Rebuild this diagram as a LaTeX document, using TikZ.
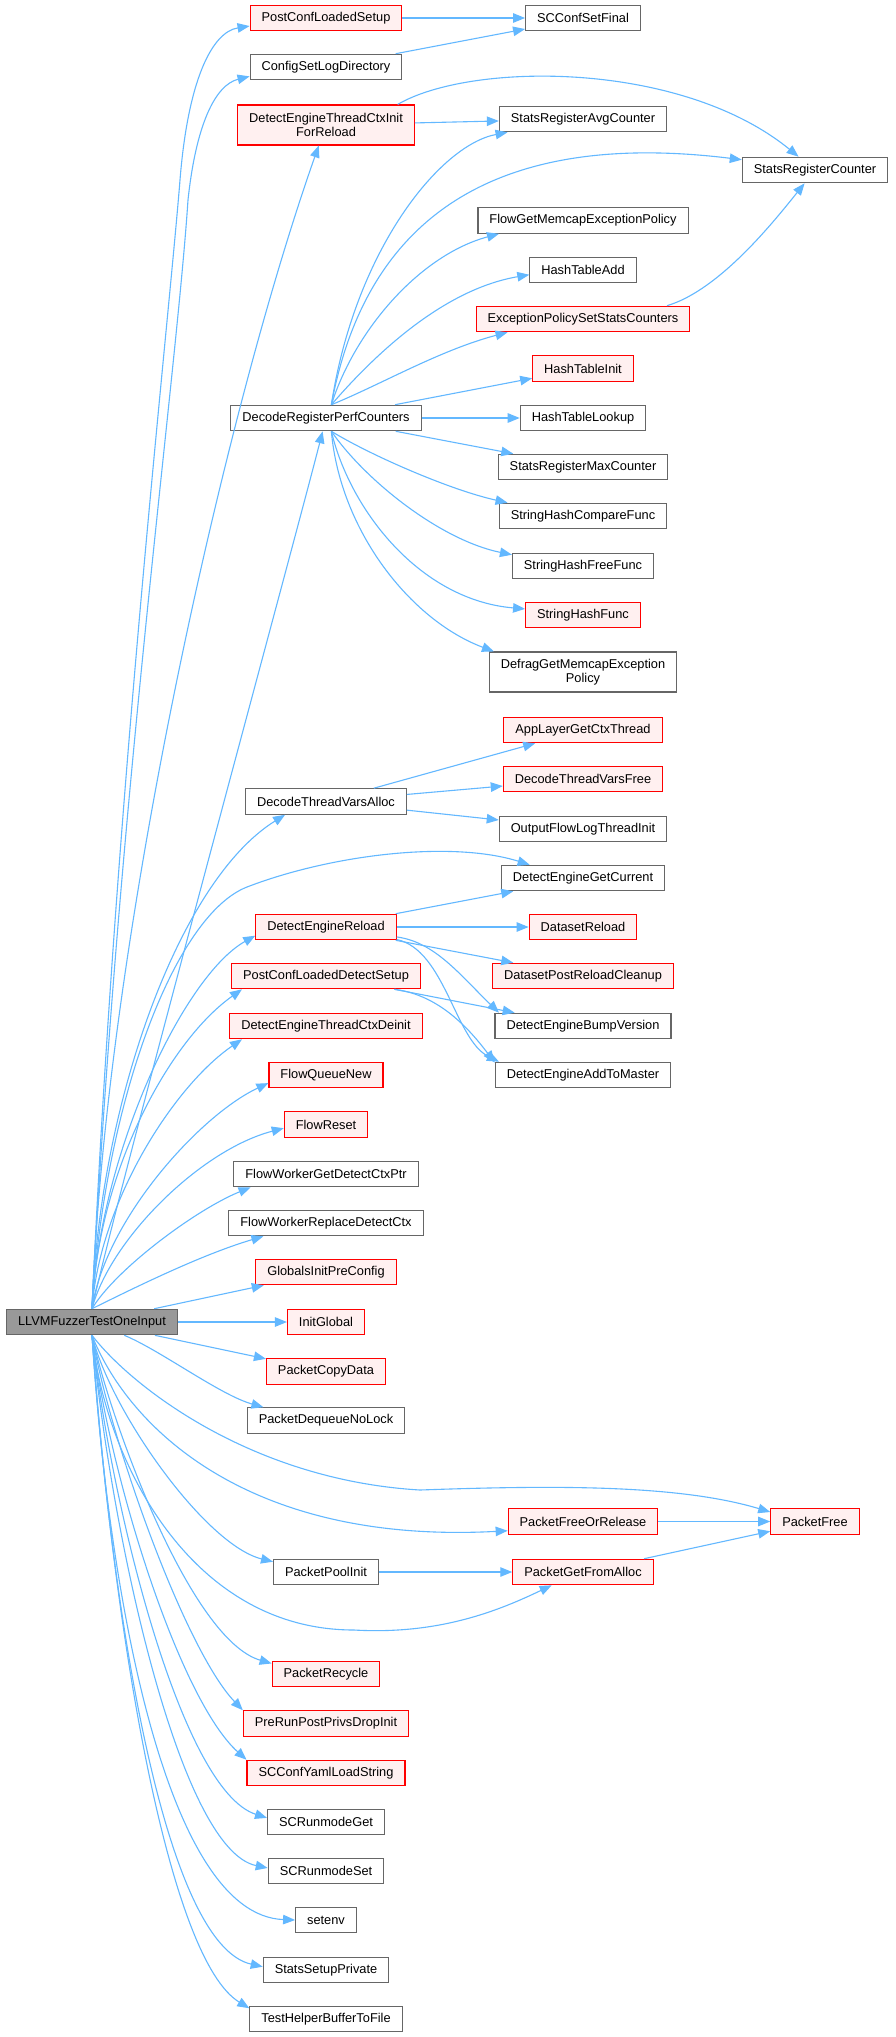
\documentclass[tikz,border=0pt]{standalone}
\usepackage{fontspec}
\setmainfont{Liberation Sans}
\usetikzlibrary{arrows.meta}

\definecolor{edgeblue}{HTML}{63B8FF}
\definecolor{nodegray}{HTML}{666666}
\definecolor{rootgray}{HTML}{999999}
\definecolor{redfill}{HTML}{FFF0F0}

\begin{document}
\begin{tikzpicture}[
    x=1pt, y=-1pt,
    font=\fontsize{12.8}{14}\selectfont,
    fn/.style={draw=nodegray, fill=white, line width=1.1pt, minimum height=25.5pt,
               inner xsep=11.5pt, inner ysep=1pt},
    hot/.style={fn, draw=red, fill=redfill},
    rootfn/.style={fn, fill=rootgray},
    twoline/.style={align=center, minimum height=40pt},
    call/.style={draw=edgeblue, line width=1.1pt, -{Triangle[length=12pt, width=9.5pt]}}
]

% White page
\fill[white] (0,0) rectangle (895,2037);
\useasboundingbox (0,0) rectangle (895,2037);

% Caller
\node[rootfn] (root) at (92,1322) {LLVMFuzzerTestOneInput};

% Callees, first column
\node[hot] (pcls) at (326,18) {PostConfLoadedSetup};
\node[fn] (csld) at (326,67) {ConfigSetLogDirectory};
\node[hot, twoline] (detcifr) at (326,125) {DetectEngineThreadCtxInit\\ForReload};
\node[fn] (drpc) at (326,418) {DecodeRegisterPerfCounters};
\node[fn] (dtva) at (326,801.5) {DecodeThreadVarsAlloc};
\node[hot] (der) at (326,927) {DetectEngineReload};
\node[hot] (pclds) at (326,976) {PostConfLoadedDetectSetup};
\node[hot] (detcd) at (326,1026) {DetectEngineThreadCtxDeinit};
\node[hot] (fqn) at (326,1075) {FlowQueueNew};
\node[hot] (fr) at (326,1124.5) {FlowReset};
\node[fn] (fwgdcp) at (326,1174) {FlowWorkerGetDetectCtxPtr};
\node[fn] (fwrdc) at (326,1223) {FlowWorkerReplaceDetectCtx};
\node[hot] (gipc) at (326,1272) {GlobalsInitPreConfig};
\node[hot] (ig) at (326,1322) {InitGlobal};
\node[hot] (pcd) at (326,1371.5) {PacketCopyData};
\node[fn] (pdnl) at (326,1420.5) {PacketDequeueNoLock};
\node[fn] (ppi) at (326,1572) {PacketPoolInit};
\node[hot] (prc) at (326,1674) {PacketRecycle};
\node[hot] (rppdi) at (326,1723.5) {PreRunPostPrivsDropInit};
\node[hot] (ylds) at (326,1773) {SCConfYamlLoadString};
\node[fn] (rmg) at (326,1822) {SCRunmodeGet};
\node[fn] (rms) at (326,1871) {SCRunmodeSet};
\node[fn] (senv) at (326,1920) {setenv};
\node[fn] (ssp) at (326,1970) {StatsSetupPrivate};
\node[fn] (thbf) at (326,2019) {TestHelperBufferToFile};

% Second column
\node[fn] (scsf) at (583,18) {SCConfSetFinal};
\node[fn] (srac) at (583,119) {StatsRegisterAvgCounter};
\node[fn] (fgmep) at (583,220.5) {FlowGetMemcapExceptionPolicy};
\node[fn] (hta) at (583,270) {HashTableAdd};
\node[hot] (epssc) at (583,319) {ExceptionPolicySetStatsCounters};
\node[hot] (hti) at (583,368.5) {HashTableInit};
\node[fn] (htl) at (583,418) {HashTableLookup};
\node[fn] (srmc) at (583,467) {StatsRegisterMaxCounter};
\node[fn] (shcf) at (583,516) {StringHashCompareFunc};
\node[fn] (shff) at (583,566) {StringHashFreeFunc};
\node[hot] (shf) at (583,615) {StringHashFunc};
\node[fn, twoline] (dgmep) at (583,672) {DefragGetMemcapException\\Policy};
\node[hot] (algct) at (583,730) {AppLayerGetCtxThread};
\node[hot] (dtvf) at (583,779) {DecodeThreadVarsFree};
\node[fn] (ofti) at (583,829) {OutputFlowLogThreadInit};
\node[fn] (degc) at (583,878) {DetectEngineGetCurrent};
\node[hot] (dsr) at (583,927) {DatasetReload};
\node[hot] (dsprc) at (583,976) {DatasetPostReloadCleanup};
\node[fn] (debv) at (583,1026) {DetectEngineBumpVersion};
\node[fn] (deatm) at (583,1075) {DetectEngineAddToMaster};
\node[hot] (pfor) at (583,1521.5) {PacketFreeOrRelease};
\node[hot] (pgfa) at (583,1572) {PacketGetFromAlloc};

% Third column
\node[fn] (src) at (815,170) {StatsRegisterCounter};
\node[hot] (pf) at (815,1521.5) {PacketFree};

% Straight calls
\foreach \a/\b in {root/gipc, root/ig, root/pcd, pcls/scsf, csld/scsf, detcifr/srac,
                   drpc/hti, drpc/htl, drpc/srmc, dtva/algct, dtva/dtvf, dtva/ofti,
                   der/degc, der/dsr, der/dsprc, pclds/debv, pfor/pf, ppi/pgfa, pgfa/pf} {
    \draw[call] (\a) -- (\b);
}

% Calls leaving the top of the caller
\draw[call] (root.north) .. controls (115,800) and (168,330) .. (180,180)
    .. controls (188,80) and (212,32) .. (pcls.186);
\draw[call] (root.north) .. controls (118,800) and (176,380) .. (188,200)
    .. controls (196,125) and (215,85) .. (csld.187);
\draw[call] (root.north) .. controls (105,950) and (222,420) .. (detcifr);
\draw[call] (root.north) .. controls (118,1190) and (295,540) .. (drpc);
\draw[call] (root.north) .. controls (100,1100) and (180,880) .. (dtva.198);
\draw[call] (root.north) .. controls (105,1100) and (175,915) .. (247,887)
    .. controls (330,855) and (450,840) .. (degc.166);
\draw[call] (root.north) .. controls (100,1150) and (185,975) .. (der.187);
\draw[call] (root.north) .. controls (98,1170) and (170,1040) .. (pclds.189);
\draw[call] (root.north) .. controls (100,1200) and (175,1085) .. (detcd.189);
\draw[call] (root.north) .. controls (105,1220) and (200,1115) .. (fqn.188);
\draw[call] (root.north) .. controls (110,1240) and (200,1150) .. (fr.185);
\draw[call] (root.north) .. controls (115,1270) and (195,1210) .. (fwgdcp.190);
\draw[call] (root.north) .. controls (130,1290) and (200,1255) .. (fwrdc.192);

% Calls leaving the bottom of the caller
\draw[call] (root) .. controls (160,1350) and (220,1395) .. (pdnl.168);
\draw[call] (root.south) .. controls (130,1385) and (250,1480) .. (420,1490)
    .. controls (560,1485) and (680,1485) .. (pf.168);
\draw[call] (root.south) .. controls (125,1420) and (240,1545) .. (pfor.187);
\draw[call] (root.south) .. controls (110,1410) and (205,1545) .. (ppi.169);
\draw[call] (root.south) .. controls (105,1460) and (190,1630) .. (354,1630)
    .. controls (440,1635) and (500,1610) .. (pgfa.203);
\draw[call] (root.south) .. controls (110,1420) and (190,1640) .. (prc.169);
\draw[call] (root.south) .. controls (110,1440) and (185,1650) .. (rppdi.north west);
\draw[call] (root.south) .. controls (110,1480) and (180,1700) .. (ylds.north west);
\draw[call] (root.south) .. controls (110,1500) and (180,1790) .. (rmg.176);
\draw[call] (root.south) .. controls (112,1540) and (180,1850) .. (rms.177);
\draw[call] (root.south) .. controls (108,1590) and (165,1915) .. (senv.west);
\draw[call] (root.south) .. controls (112,1620) and (165,1945) .. (ssp.177);
\draw[call] (root.south) .. controls (115,1650) and (170,1960) .. (thbf.172);

% Counters registered by DecodeRegisterPerfCounters
\draw[call] (drpc.68) .. controls (355,250) and (440,145) .. (srac.190);
\draw[call] (drpc.68) .. controls (360,250) and (460,125) .. (src.172);
\draw[call] (drpc.68) .. controls (355,330) and (420,255) .. (fgmep.189);
\draw[call] (drpc.68) .. controls (370,360) and (440,290) .. (hta.185);
\draw[call] (drpc.68) .. controls (380,385) and (440,350) .. (epssc.190);
\draw[call] (drpc.292) .. controls (370,455) and (450,490) .. (shcf.170);
\draw[call] (drpc.292) .. controls (365,480) and (440,540) .. (shff.171);
\draw[call] (drpc.292) .. controls (350,510) and (420,600) .. (shf.174);
\draw[call] (drpc.292) .. controls (340,530) and (410,620) .. (dgmep.167);

% Other curved calls
\draw[call] (detcifr.16) .. controls (470,62) and (680,60) .. (src.141);
\draw[call] (epssc.9) .. controls (720,290) and (775,220) .. (src.232);
\draw[call] (der.352) .. controls (435,942) and (460,975) .. (debv.171);
\draw[call] (der.350) .. controls (445,950) and (455,1040) .. (deatm.171);
\draw[call] (pclds.349) .. controls (440,995) and (470,1030) .. (deatm.172);

\end{tikzpicture}
\end{document}
